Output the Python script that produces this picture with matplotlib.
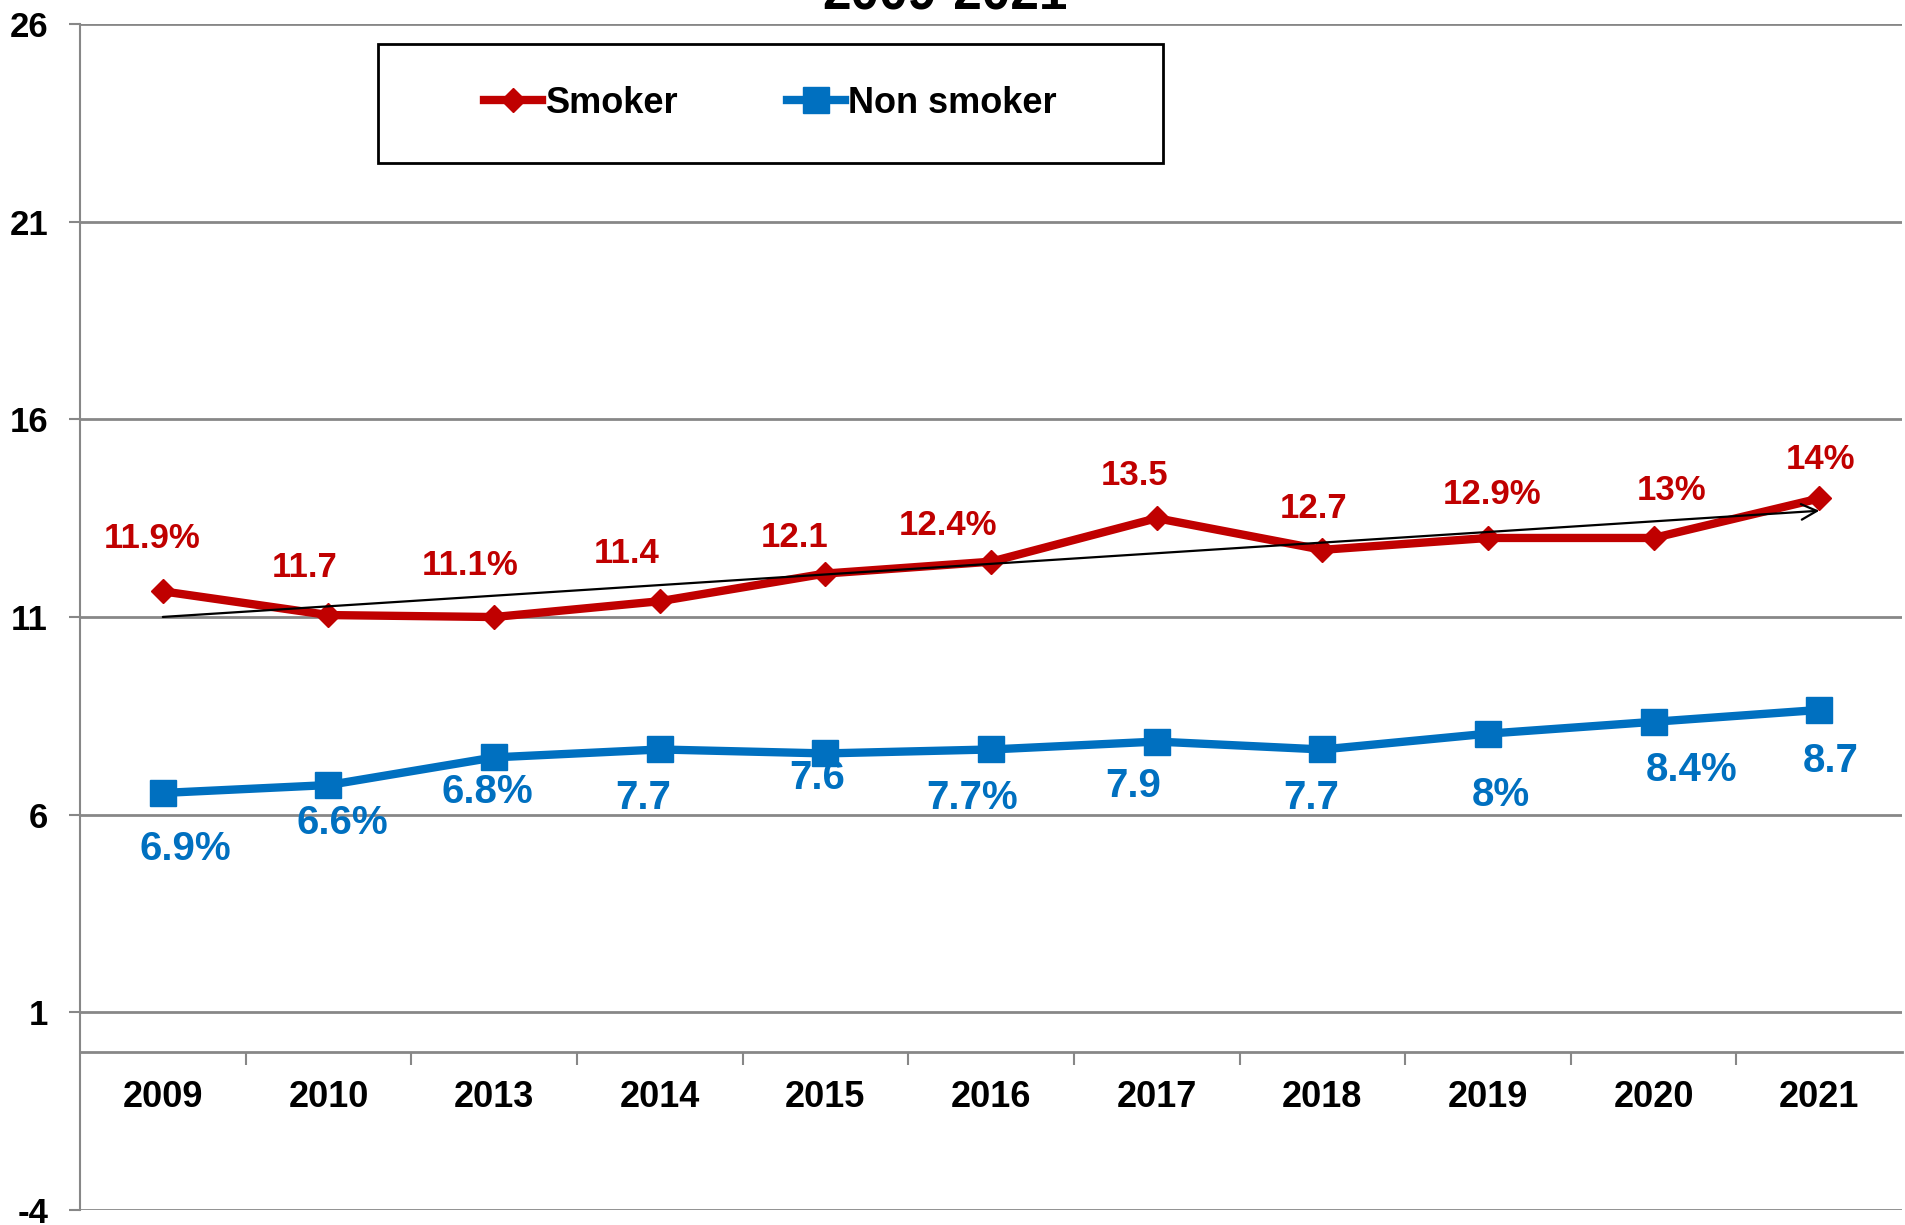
import numpy as np
import matplotlib
matplotlib.use('Agg')
import matplotlib.pyplot as plt
from matplotlib.patches import Rectangle

# data
years = ['2009', '2010', '2013', '2014', '2015', '2016', '2017', '2018', '2019', '2020', '2021']
smoker = [11.65, 11.05, 11.0, 11.4, 12.1, 12.4, 13.5, 12.7, 13.0, 13.0, 14.0]
non_smoker = [6.55, 6.75, 7.45, 7.65, 7.55, 7.65, 7.85, 7.65, 8.05, 8.35, 8.65]
smoker_labels = ['11.9%', '11.7', '11.1%', '11.4', '12.1', '12.4%', '13.5', '12.7', '12.9%', '13%', '14%']
non_smoker_labels = ['6.9%', '6.6%', '6.8%', '7.7', '7.6', '7.7%', '7.9', '7.7', '8%', '8.4%', '8.7']
y_ticks = [-4, 1, 6, 11, 16, 21, 26]

# label offsets (points) from each marker, as placed in the original
smoker_offsets = [(-8, 38), (-17, 34), (-17, 37), (-24, 34), (-22, 26), (-31, 26),
                  (-16, 31), (-6, 30), (3, 31), (13, 34), (1, 28)]
non_smoker_offsets = [(16, -40), (10, -27), (-5, -25), (-12, -35), (-6, -18), (-14, -35),
                      (-17, -32), (-8, -35), (9, -44), (27, -35), (8, -37)]

RED = '#C00000'
BLUE = '#0070C0'
GRID = '#878787'

plt.rcParams['font.family'] = ['Liberation Sans', 'DejaVu Sans']
plt.rcParams['font.weight'] = 'bold'

fig = plt.figure(figsize=(19.05, 12.25), dpi=100)
ax = fig.add_axes([0.042, 0.0122, 0.9565, 0.9682])

x = np.arange(len(years))

ax.plot(x, smoker, color=RED, lw=6, marker='D', markersize=12, label='Smoker', zorder=3)
ax.plot(x, non_smoker, color=BLUE, lw=6, marker='s', markersize=19, label='Non smoker', zorder=3)

# linear trend of smoker series drawn as an arrow
coef = np.polyfit(x, smoker, 1)
ax.annotate('', xy=(x[-1], np.polyval(coef, x[-1])), xytext=(x[0], np.polyval(coef, x[0])),
            arrowprops=dict(arrowstyle='->', color='black', lw=1.6, mutation_scale=28,
                            shrinkA=0, shrinkB=0), zorder=4)

for i in range(len(x)):
    ax.annotate(smoker_labels[i], (x[i], smoker[i]), xytext=smoker_offsets[i],
                textcoords='offset points', ha='center', va='center',
                color=RED, fontsize=25, fontweight='bold')
    ax.annotate(non_smoker_labels[i], (x[i], non_smoker[i]), xytext=non_smoker_offsets[i],
                textcoords='offset points', ha='center', va='center',
                color=BLUE, fontsize=29, fontweight='bold')

ax.set_xlim(-0.5, len(years) - 0.5)
ax.set_ylim(-4, 26)
ax.set_yticks(y_ticks)
ax.set_yticklabels([str(v) for v in y_ticks])
ax.yaxis.grid(True, color=GRID, lw=2)
ax.set_axisbelow(True)

ax.set_xticks(x)
ax.set_xticklabels(years)
ax.set_xticks(x[:-1] + 0.5, minor=True)
ax.tick_params(axis='x', which='major', length=0, pad=20, labelsize=26)
ax.tick_params(axis='x', which='minor', length=9, width=1.5, color=GRID, direction='out')
ax.tick_params(axis='y', length=8, width=1.5, color=GRID, pad=15, labelsize=25)

ax.spines['top'].set_visible(False)
ax.spines['right'].set_visible(False)
ax.spines['left'].set_color(GRID)
ax.spines['left'].set_linewidth(1.5)
ax.spines['bottom'].set_position(('data', 0))
ax.spines['bottom'].set_color(GRID)
ax.spines['bottom'].set_linewidth(2)

# legend with its own box
ax.add_patch(Rectangle((0.1636, 0.883), 0.431, 0.1, transform=ax.transAxes,
                       fill=False, edgecolor='black', lw=2, zorder=5, clip_on=False))
ax.legend(loc='center', bbox_to_anchor=(0.379, 0.933), ncol=2, frameon=False,
          handlelength=1.6, handletextpad=0.1, columnspacing=3,
          prop={'weight': 'bold', 'size': 26})

# title, cut off at the top of the picture
fig.text(0.4958, 1 - 10 / 1225, '2009-2021', ha='center', va='baseline',
         fontsize=37, fontweight='bold')

fig.savefig('out.png', dpi=100)
